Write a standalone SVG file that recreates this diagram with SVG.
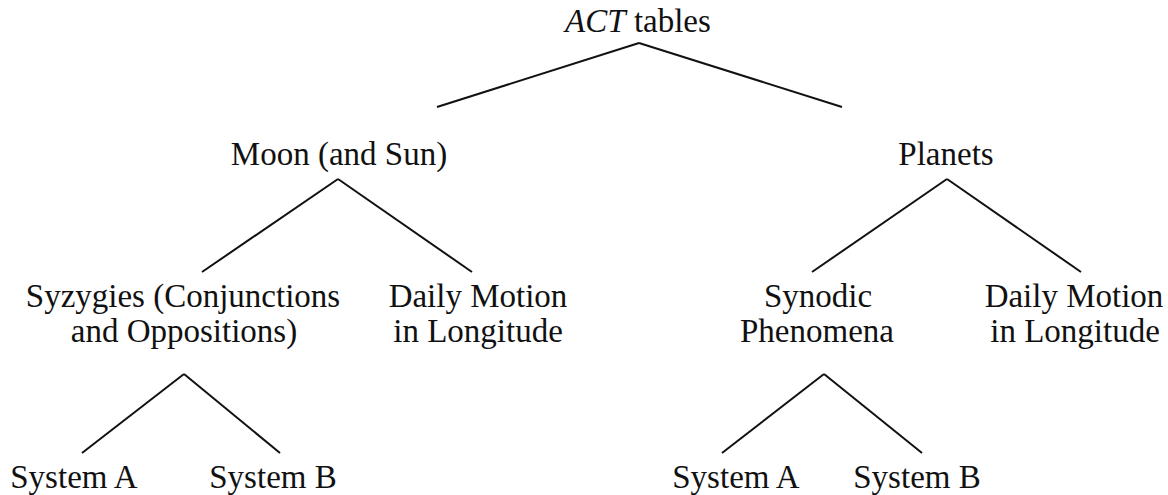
<svg xmlns="http://www.w3.org/2000/svg" width="1168" height="495" viewBox="0 0 1168 495">
<style>
text{font-family:"Liberation Serif","Times New Roman",serif;font-size:33px;fill:#111;text-anchor:middle}
.e line{stroke:#111;stroke-width:2;stroke-linecap:butt}
</style>
<rect width="1168" height="495" fill="#fff"/>
<g class="e" id="connectors">
<line x1="639" y1="43" x2="437" y2="107"/>
<line x1="639" y1="43" x2="842" y2="107"/>
<line x1="338" y1="179" x2="202" y2="272"/>
<line x1="338" y1="179" x2="472" y2="272"/>
<line x1="947" y1="179" x2="812" y2="272"/>
<line x1="947" y1="179" x2="1081" y2="272"/>
<line x1="184" y1="374" x2="82" y2="453"/>
<line x1="184" y1="374" x2="280" y2="453"/>
<line x1="824" y1="374" x2="722" y2="453"/>
<line x1="824" y1="374" x2="922" y2="453"/>
</g>
<g id="root"><text x="638" y="32"><tspan font-style="italic">ACT</tspan> tables</text></g>
<g id="moon"><text x="339" y="165">Moon (and Sun)</text></g>
<g id="planets"><text x="946" y="165">Planets</text></g>
<g id="syzygies"><text x="183" y="307">Syzygies (Conjunctions</text><text x="184" y="342">and Oppositions)</text></g>
<g id="daily1"><text x="478" y="307">Daily Motion</text><text x="478" y="342">in Longitude</text></g>
<g id="synodic"><text x="818" y="307">Synodic</text><text x="817" y="342">Phenomena</text></g>
<g id="daily2"><text x="1074" y="307">Daily Motion</text><text x="1075" y="342">in Longitude</text></g>
<g id="sysA1"><text x="74" y="488">System A</text></g>
<g id="sysB1"><text x="273" y="488">System B</text></g>
<g id="sysA2"><text x="736" y="488">System A</text></g>
<g id="sysB2"><text x="917" y="488">System B</text></g>
</svg>
